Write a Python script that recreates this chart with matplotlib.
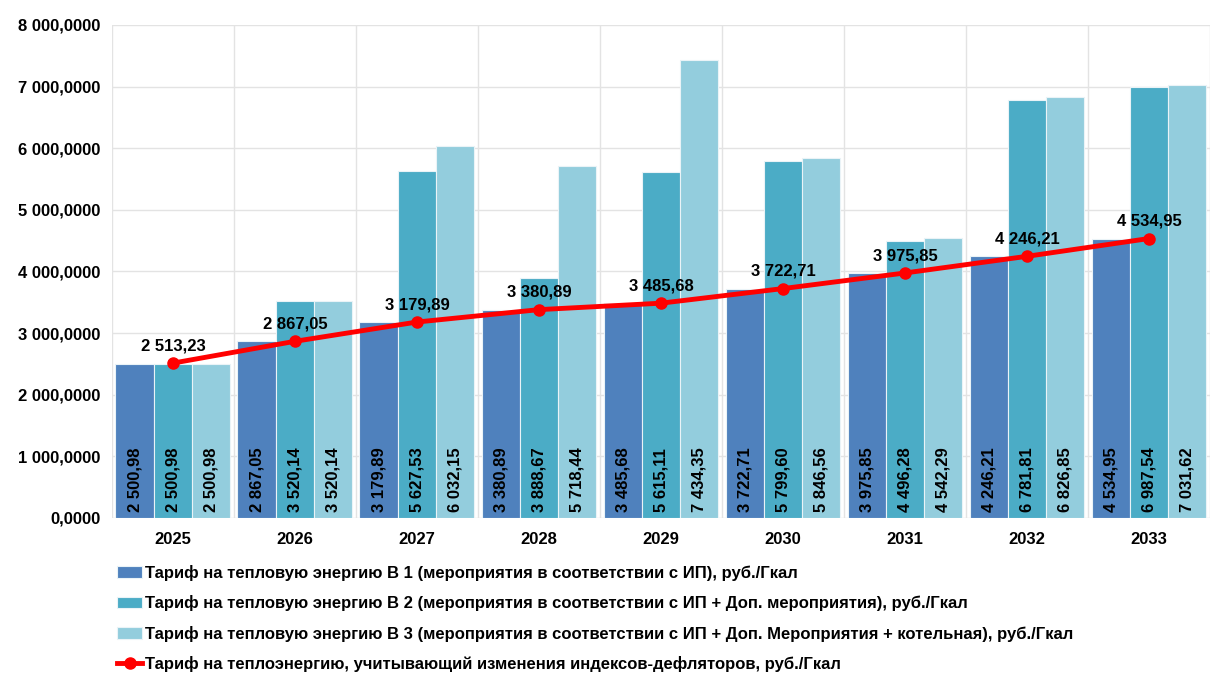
import matplotlib
matplotlib.use("Agg")
import matplotlib.pyplot as plt
import numpy as np
from matplotlib.ticker import FuncFormatter, MultipleLocator

plt.rcParams['font.family'] = ['Liberation Sans', 'DejaVu Sans']

years = ["2025", "2026", "2027", "2028", "2029", "2030", "2031", "2032", "2033"]
b1 = [2500.98, 2867.05, 3179.89, 3380.89, 3485.68, 3722.71, 3975.85, 4246.21, 4534.95]
b2 = [2500.98, 3520.14, 5627.53, 3888.67, 5615.11, 5799.60, 4496.28, 6781.81, 6987.54]
b3 = [2500.98, 3520.14, 6032.15, 5718.44, 7434.35, 5846.56, 4542.29, 6826.85, 7031.62]
line = [2513.23, 2867.05, 3179.89, 3380.89, 3485.68, 3722.71, 3975.85, 4246.21, 4534.95]

labels = [
    "Тариф на тепловую энергию В 1 (мероприятия в соответствии с ИП), руб./Гкал",
    "Тариф на тепловую энергию В 2 (мероприятия в соответствии с ИП + Доп. мероприятия), руб./Гкал",
    "Тариф на тепловую энергию В 3 (мероприятия в соответствии с ИП + Доп. Мероприятия + котельная), руб./Гкал",
    "Тариф на теплоэнергию, учитывающий изменения индексов-дефляторов, руб./Гкал",
]
colors = ["#4F81BD", "#4BACC6", "#93CDDD"]


def fmt(v, dec=2):
    s = f"{v:,.{dec}f}"
    return s.replace(",", " ").replace(".", ",")


fig = plt.figure(figsize=(12.13, 6.98), dpi=100)
ax = fig.add_axes([0.0923, 0.2579, 0.9052, 0.7063])

x = np.arange(len(years))
w = 0.314
handles = []
for i, (vals, c) in enumerate(zip([b1, b2, b3], colors)):
    pos = x + (i - 1) * w
    bars = ax.bar(pos, vals, width=w, color=c, edgecolor="#EAF3F7", linewidth=0.8,
                  label=labels[i], zorder=2)
    handles.append(bars)
    for p, v in zip(pos, vals):
        ax.text(p, 90, fmt(v), rotation=90, ha="center", va="bottom",
                fontsize=12, fontweight="bold", color="black", zorder=4)

ln, = ax.plot(x, line, color="#FF0000", lw=3.5, marker="o", markersize=8,
              label=labels[3], zorder=5)
for xi, v in zip(x, line):
    ax.text(xi, v + 160, fmt(v), ha="center", va="bottom", fontsize=12,
            fontweight="bold", color="black", zorder=6)

ax.set_xlim(-0.5, len(years) - 0.5)
ax.set_ylim(0, 8000)
ax.yaxis.set_major_locator(MultipleLocator(1000))
ax.yaxis.set_major_formatter(FuncFormatter(lambda v, p: fmt(v, 4)))
ax.set_xticks(x)
ax.set_xticklabels(years)
for t in ax.get_xticklabels() + ax.get_yticklabels():
    t.set_fontweight("bold")
    t.set_fontsize(12)
ax.tick_params(axis="x", length=0, pad=10)
ax.tick_params(axis="y", length=0, pad=8)

ax.set_xticks(np.arange(-0.5, len(years), 1), minor=True)
ax.grid(True, axis="y", which="major", color="#E3E3E3", lw=1, zorder=0)
ax.grid(True, axis="x", which="minor", color="#E3E3E3", lw=1, zorder=0)
ax.grid(False, axis="x", which="major")
ax.tick_params(axis="x", which="minor", length=0)
for s in ax.spines.values():
    s.set_visible(False)
ax.set_axisbelow(True)

fig.legend(handles + [ln], labels, loc="upper left", bbox_to_anchor=(0.091, 0.2),
           frameon=False, ncol=1, prop={"weight": "bold", "size": 12},
           handlelength=1.5, handletextpad=0.15, labelspacing=0.86,
           borderaxespad=0)

fig.savefig("out.png", dpi=100)
